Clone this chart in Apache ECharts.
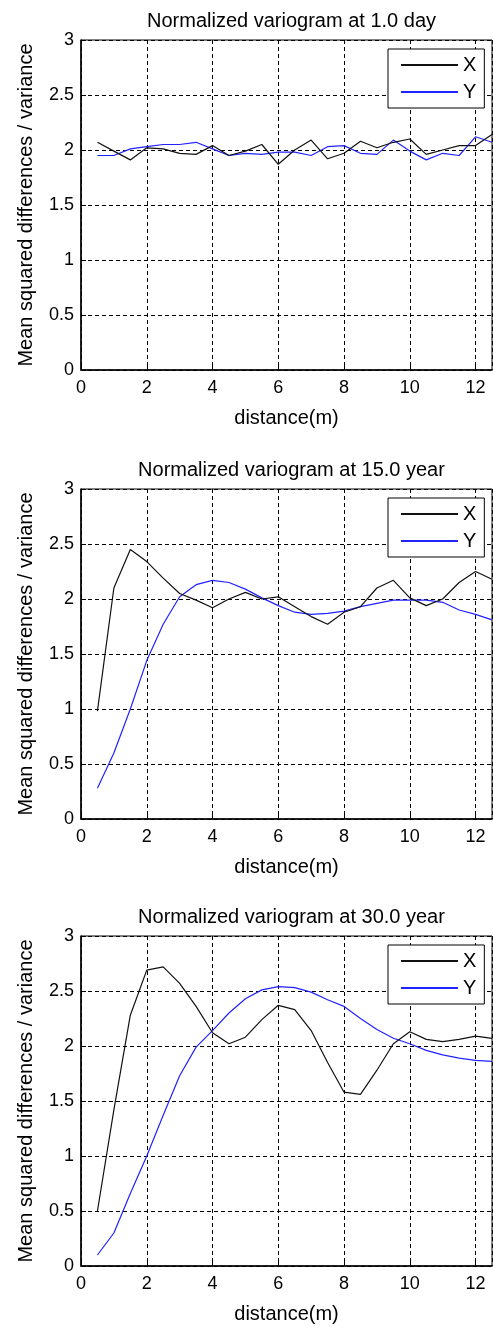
<!DOCTYPE html>
<html>
<head>
<meta charset="utf-8">
<script src="https://cdn.jsdelivr.net/npm/echarts@6/dist/echarts.min.js"></script>
<style>
html,body{margin:0;padding:0;background:#fff;}
#c{width:493px;height:1326px;}
</style>
</head>
<body>
<div id="c"></div>
<script>
// distances (m)
const distances = [0.5,1.0,1.5,2.0,2.5,3.0,3.5,4.0,4.5,5.0,5.5,6.0,6.5,7.0,7.5,8.0,8.5,9.0,9.5,10.0,10.5,11.0,11.5,12.0,12.5];

const titles = ['Normalized variogram at 1.0 day','Normalized variogram at 15.0 year','Normalized variogram at 30.0 year'];
const seriesNames = ['X','Y'];
const xTickLabels = ['0','2','4','6','8','10','12'];
const yTickLabels = ['0','0.5','1','1.5','2','2.5','3'];

// Panel 1: 1.0 day
const day1X = [2.07,1.99,1.91,2.02,2.01,1.97,1.96,2.04,1.95,1.99,2.05,1.87,2.00,2.09,1.92,1.97,2.08,2.02,2.07,2.10,1.96,2.00,2.04,2.04,2.14];
const day1Y = [1.95,1.95,2.01,2.03,2.05,2.05,2.07,2.01,1.95,1.97,1.96,1.98,1.98,1.95,2.03,2.04,1.97,1.96,2.09,1.99,1.91,1.97,1.95,2.12,2.07];
// Panel 2: 15.0 year
const yr15X = [0.98,2.10,2.45,2.34,2.19,2.05,1.99,1.92,2.00,2.06,2.00,2.02,1.93,1.84,1.77,1.88,1.93,2.10,2.17,2.01,1.94,2.00,2.15,2.25,2.18];
const yr15Y = [0.28,0.60,1.00,1.44,1.77,2.02,2.13,2.17,2.15,2.09,2.01,1.94,1.88,1.86,1.87,1.89,1.93,1.96,1.99,1.99,1.99,1.97,1.90,1.86,1.81];
// Panel 3: 30.0 year
const yr30X = [0.50,1.42,2.28,2.69,2.72,2.57,2.36,2.12,2.02,2.08,2.24,2.37,2.33,2.14,1.85,1.58,1.56,1.78,2.02,2.13,2.06,2.04,2.06,2.09,2.07];
const yr30Y = [0.10,0.30,0.66,1.00,1.37,1.73,1.99,2.14,2.30,2.43,2.51,2.54,2.53,2.49,2.42,2.36,2.25,2.15,2.07,2.02,1.96,1.92,1.89,1.87,1.86];

const panels = [[day1X, day1Y],[yr15X, yr15Y],[yr30X, yr30Y]];
const colors = ['#111111','#2222ff'];

const FONT = "'Liberation Sans', Arial, sans-serif";
const tops = [40, 489, 936];
const plotH = 330;
const plotL = 81;
const plotW = 411;

const chart = echarts.init(document.getElementById('c'), null, {renderer:'canvas'});

const option = {
  backgroundColor:'#fff',
  animation:false,
  textStyle:{fontFamily:FONT,color:'#000'},
  title: titles.map((t,i)=>({
    text:t, left: plotL + plotW/2, top: tops[i]-34, textAlign:'center',
    textStyle:{fontFamily:FONT,fontSize:20,fontWeight:'normal',color:'#000'}
  })),
  legend: tops.map((t,i)=>({
    data: seriesNames, orient:'vertical', left:388, top:t+9,
    backgroundColor:'#fff', borderColor:'#000', borderWidth:1,
    padding:[6,8,6,12], itemWidth:57, itemHeight:20, itemGap:7,
    selectedMode:false,
    itemStyle:{color:'rgba(0,0,0,0)', borderWidth:0, borderColor:'rgba(0,0,0,0)'},
    textStyle:{fontFamily:FONT,fontSize:20,color:'#000',padding:[0,0,0,0]}
  })),
  grid: tops.map(t=>({left:plotL, top:t, width:plotW, height:plotH, show:true, borderColor:'#000', borderWidth:1, backgroundColor:'transparent'})),
  xAxis: tops.map((t,i)=>({
    gridIndex:i, type:'value', min:0, max:12.5, interval:2,
    name:'distance(m)', nameLocation:'middle', nameGap:38,
    nameTextStyle:{fontFamily:FONT,fontSize:20,color:'#000',verticalAlign:'top'},
    axisLine:{show:true,lineStyle:{color:'#000',width:1.5}},
    axisTick:{show:true,inside:true,length:5,lineStyle:{color:'#000'}},
    axisLabel:{fontFamily:FONT,fontSize:18,color:'#000',margin:9,showMaxLabel:false,
      formatter:v=>{const s=String(v);return xTickLabels.indexOf(s)>=0?s:'';}},
    splitLine:{show:true,lineStyle:{color:'#000',width:1,type:[4,3]}}
  })),
  yAxis: tops.map((t,i)=>({
    gridIndex:i, type:'value', min:0, max:3, interval:0.5,
    name:'Mean squared differences / variance', nameLocation:'middle', nameGap:45,
    nameTextStyle:{fontFamily:FONT,fontSize:20,color:'#000'},
    axisLine:{show:true,lineStyle:{color:'#000',width:1.5}},
    axisTick:{show:true,inside:true,length:5,lineStyle:{color:'#000'}},
    axisLabel:{fontFamily:FONT,fontSize:18,color:'#000',margin:7,
      formatter:v=>{const s=String(v);return yTickLabels.indexOf(s)>=0?s:'';}},
    splitLine:{show:true,lineStyle:{color:'#000',width:1,type:[4,3]}}
  })),
  series: []
};

panels.forEach((p,i)=>{
  p.forEach((vals,k)=>{
    option.series.push({
      name: seriesNames[k], type:'line', xAxisIndex:i, yAxisIndex:i,
      data: distances.map((d,j)=>[d, vals[j]]),
      symbol:'none', lineStyle:{color:colors[k],width:1.2}, itemStyle:{color:colors[k]},
      z: k===0?3:2
    });
  });
});

chart.setOption(option);
</script>
</body>
</html>
